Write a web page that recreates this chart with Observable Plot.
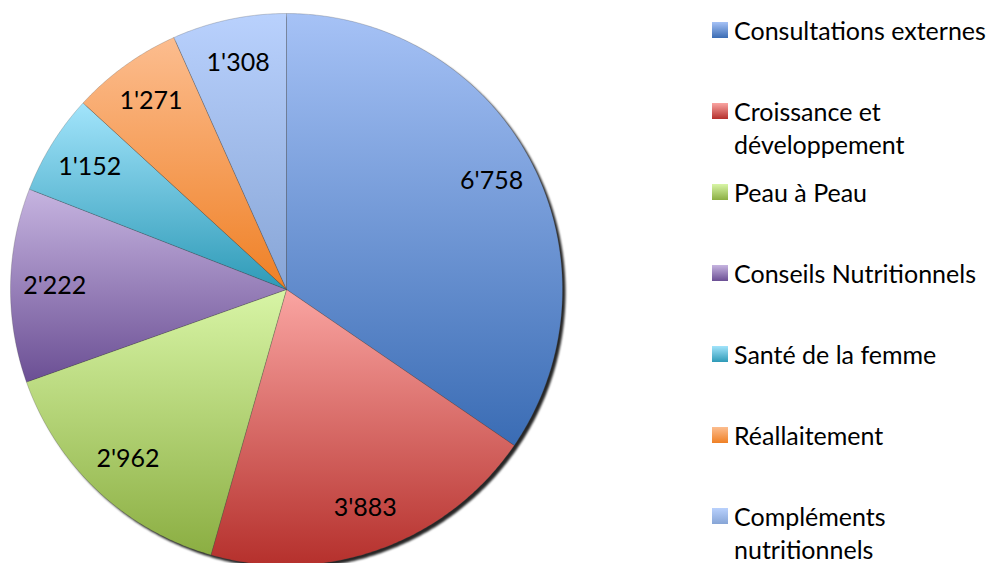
<!DOCTYPE html>
<html><head><meta charset="utf-8">
<script src="https://cdn.jsdelivr.net/npm/d3@7"></script>
<script src="https://cdn.jsdelivr.net/npm/@observablehq/plot@0.6"></script>
<style>
body{margin:0;background:#fff;}
#wrap{position:relative;width:987px;height:563px;overflow:hidden;font-family:Lato,"Open Sans",sans-serif;}
#legend{position:absolute;left:0;top:0;}
.item{position:absolute;left:734px;width:252px;font-size:25px;line-height:33px;color:#000;}
.sw{position:absolute;left:-22px;top:8px;width:16px;height:16px;}
</style>
</head><body><div id="wrap"><div id="legend"></div></div>
<script>
const categories = ["Consultations externes","Croissance et développement","Peau à Peau","Conseils Nutritionnels","Santé de la femme","Réallaitement","Compléments nutritionnels"];
const values = [6758, 3883, 2962, 2222, 1152, 1271, 1308];
const lightColors = ["#a6c2f6","#faa5a2","#d8f5a6","#c6b4e0","#a2e4fb","#fcbd8f","#b9d1fd"];
const darkColors = ["#3a6cb4","#b5302c","#8bae42","#6b4f94","#2e9ab7","#ef8025","#87a5d6"];

const W = 987, H = 563, CX = 286, CY = 289, R = 276;
const fmt = d3.formatLocale({thousands:"'", grouping:[3], decimal:".", currency:["",""]}).format(",");

const arcs = d3.pie().sort(null).value(d => d)(values);
function wedge(a0, a1, withCenter) {
  const pts = withCenter ? [{x:0,y:0}] : [];
  const n = Math.max(2, Math.ceil((a1 - a0) / 0.01));
  for (let k = 0; k <= n; k++) {
    const a = a0 + (a1 - a0) * k / n;
    pts.push({x: Math.sin(a), y: Math.cos(a)});
  }
  if (withCenter) pts.push({x:0,y:0});
  return pts;
}
const circle = wedge(0, 2*Math.PI, false);
const labelR = 0.84;
const mids = arcs.map(a => (a.startAngle + a.endAngle) / 2);

const svg = Plot.plot({
  width: W, height: H,
  margin: 0,
  x: {domain: [-CX / R, (W - CX) / R], axis: null},
  y: {domain: [(CY - H) / R, CY / R], axis: null},
  style: {background: "transparent", overflow: "visible"},
  marks: [
    Plot.line(circle, {x: "x", y: "y", fill: "#000", fillOpacity: 0.85, stroke: "none", dx: 3, dy: 3}),
    ...arcs.map((a, i) => Plot.line(wedge(a.startAngle, a.endAngle, true), {
      x: "x", y: "y", fill: `url(#g${i})`, stroke: "#444", strokeOpacity: 0.3, strokeWidth: 0.8
    })),
    Plot.text(values, {
      x: (d, i) => labelR * Math.sin(mids[i]),
      y: (d, i) => labelR * Math.cos(mids[i]),
      text: d => fmt(d),
      fontSize: 25, fill: "#000", fontFamily: "Lato"
    })
  ]
});

const defs = d3.select(svg).insert("defs", ":first-child");
values.forEach((v, i) => {
  const g = defs.append("linearGradient").attr("id", `g${i}`).attr("x1", 0).attr("y1", 0).attr("x2", 0).attr("y2", 1);
  g.append("stop").attr("offset", "0%").attr("stop-color", lightColors[i]);
  g.append("stop").attr("offset", "100%").attr("stop-color", darkColors[i]);
});
const lineGroups = d3.select(svg).selectAll('g[aria-label="line"]').nodes();
if (lineGroups.length) lineGroups[0].style.filter = "blur(1.2px)";

document.getElementById("wrap").insertBefore(svg, document.getElementById("legend"));
svg.style.position = "absolute"; svg.style.left = "0"; svg.style.top = "0";

const legend = d3.select("#legend");
categories.forEach((c, i) => {
  const it = legend.append("div").attr("class", "item").style("top", (14 + i * 81) + "px");
  it.append("div").attr("class", "sw").style("background", `linear-gradient(${lightColors[i]}, ${darkColors[i]})`);
  it.append("span").text(c);
});
</script>
</body></html>
